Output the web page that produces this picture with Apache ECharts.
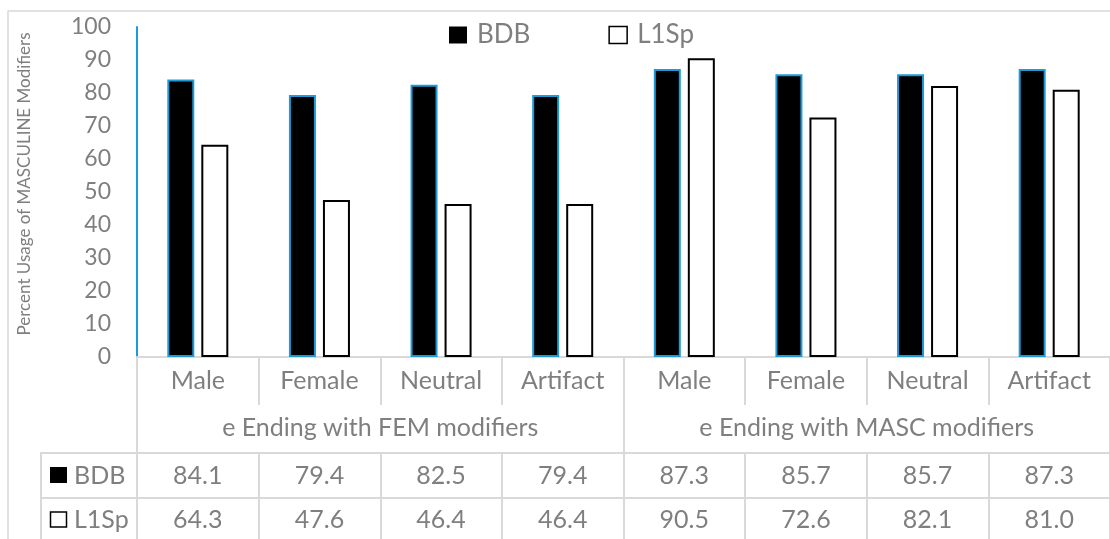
<!DOCTYPE html>
<html>
<head>
<meta charset="utf-8">
<script src="https://cdn.jsdelivr.net/npm/echarts@6/dist/echarts.min.js"></script>
<style>html,body{margin:0;padding:0;background:#fff;}#c{width:1110px;height:539px;}</style>
</head>
<body>
<div id="c"></div>
<script>
var categories = ['Male', 'Female', 'Neutral', 'Artifact', 'Male', 'Female', 'Neutral', 'Artifact'];
var groups = ['e Ending with FEM modifiers', 'e Ending with MASC modifiers'];
var seriesNames = ['BDB', 'L1Sp'];
var bdb = [84.1, 79.4, 82.5, 79.4, 87.3, 85.7, 85.7, 87.3];
var l1sp = [64.3, 47.6, 46.4, 46.4, 90.5, 72.6, 82.1, 81.0];
var yTicks = { min: 0, max: 100, interval: 10 };

var GRAY = '#7f7f7f', LINE = '#d9d9d9', BLUE = '#1e9bd7';
var FONT = 'Lato';
var chart = echarts.init(document.getElementById('c'), null, { renderer: 'canvas' });

function tableAxis(labels, offset, tickLen, margin, showLine) {
  return {
    type: 'category', gridIndex: 0, position: 'bottom', offset: offset,
    data: categories.map(function (c, i) { return c + '#' + i; }),
    axisLine: { show: showLine, lineStyle: { color: LINE, width: 2 } },
    axisTick: { show: true, interval: 0, length: tickLen, lineStyle: { color: LINE, width: 2 } },
    axisLabel: {
      interval: 0, margin: margin, verticalAlign: 'middle', color: GRAY, fontSize: 25, fontFamily: FONT,
      formatter: function (v, i) { return labels[i]; }
    },
    splitLine: { show: false }
  };
}

var option = {
  animation: false,
  textStyle: { fontFamily: FONT },
  grid: { left: 137, top: 27, width: 980, height: 330, containLabel: false },
  legend: {
    left: 449, top: 22, padding: 0, itemGap: 78, itemWidth: 18, itemHeight: 17, icon: 'rect',
    textStyle: { fontSize: 26, color: GRAY, fontFamily: FONT, padding: [0, 0, 0, 5] },
    data: [
      { name: seriesNames[0], itemStyle: { color: '#000', borderWidth: 0 } },
      { name: seriesNames[1], itemStyle: { color: '#fff', borderColor: '#000', borderWidth: 1.5 } }
    ]
  },
  xAxis: [
    {
      type: 'category', gridIndex: 0, position: 'bottom', data: categories,
      axisLine: { show: true, lineStyle: { color: LINE, width: 2 } },
      axisTick: { show: true, interval: 0, length: 48, lineStyle: { color: LINE, width: 2 } },
      axisLabel: { interval: 0, margin: 24, verticalAlign: 'middle', color: GRAY, fontSize: 25, fontFamily: FONT }
    },
    {
      type: 'category', gridIndex: 0, position: 'bottom', offset: 48, data: groups,
      axisLine: { show: false },
      axisTick: { show: true, interval: 0, length: 48, lineStyle: { color: LINE, width: 2 } },
      axisLabel: { interval: 0, margin: 23, verticalAlign: 'middle', color: GRAY, fontSize: 25, fontFamily: FONT }
    },
    tableAxis(bdb.map(function (v) { return v.toFixed(1); }), 96, 45, 23, true),
    tableAxis(l1sp.map(function (v) { return v.toFixed(1); }), 141, 50, 22, true)
  ],
  yAxis: {
    type: 'value', min: yTicks.min, max: yTicks.max, interval: yTicks.interval,
    name: 'Percent Usage of MASCULINE Modifiers', nameLocation: 'middle', nameGap: 104,
    nameTextStyle: { color: GRAY, fontSize: 17, fontFamily: FONT, padding: [0, 0, 0, 16] },
    axisLine: { show: true, lineStyle: { color: BLUE, width: 2 } },
    axisTick: { show: false },
    splitLine: { show: false },
    axisLabel: { color: GRAY, fontSize: 23, margin: 26, fontFamily: FONT }
  },
  series: [
    {
      name: seriesNames[0], type: 'bar', xAxisIndex: 0, data: bdb, barWidth: 27, barGap: '26%',
      itemStyle: { color: '#000', borderColor: BLUE, borderWidth: 2 }
    },
    {
      name: seriesNames[1], type: 'bar', xAxisIndex: 0, data: l1sp, barWidth: 27, barGap: '26%',
      itemStyle: { color: '#fff', borderColor: '#000', borderWidth: 2 }
    }
  ],
  graphic: [
    { type: 'rect', shape: { x: 8, y: 11, width: 1300, height: 700 }, style: { fill: 'none', stroke: LINE, lineWidth: 1.5 }, silent: true, z: -1 },
    { type: 'line', shape: { x1: 41, y1: 453, x2: 138, y2: 453 }, style: { stroke: LINE, lineWidth: 2 } },
    { type: 'line', shape: { x1: 41, y1: 498, x2: 138, y2: 498 }, style: { stroke: LINE, lineWidth: 2 } },
    { type: 'line', shape: { x1: 41, y1: 452, x2: 41, y2: 560 }, style: { stroke: LINE, lineWidth: 2 } },
    { type: 'rect', shape: { x: 50, y: 467, width: 17, height: 16 }, style: { fill: '#000' } },
    { type: 'text', x: 74, y: 476, style: { text: seriesNames[0], fill: GRAY, font: '25px ' + FONT, textVerticalAlign: 'middle' } },
    { type: 'rect', shape: { x: 50.5, y: 512, width: 16, height: 15 }, style: { fill: '#fff', stroke: '#000', lineWidth: 1.5 } },
    { type: 'text', x: 74, y: 520, style: { text: seriesNames[1], fill: GRAY, font: '25px ' + FONT, textVerticalAlign: 'middle' } }
  ]
};
chart.setOption(option);
</script>
</body>
</html>
